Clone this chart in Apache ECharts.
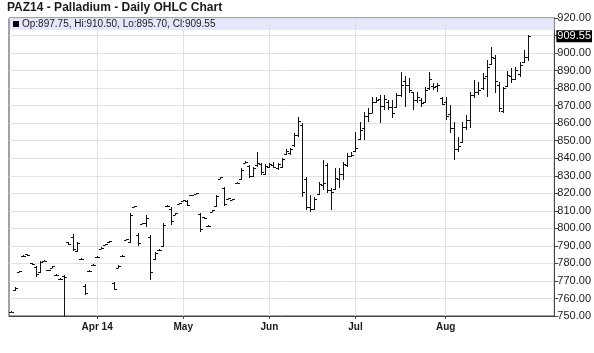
<!DOCTYPE html>
<html>
<head>
<meta charset="utf-8">
<script src="https://cdn.jsdelivr.net/npm/echarts@6/dist/echarts.min.js"></script>
<style>
html,body{margin:0;padding:0;background:#fff;}
#chart{width:594px;height:353px;}
</style>
</head>
<body>
<div id="chart"></div>
<script>
// ---- data ----
const titleText = 'PAZ14 - Palladium - Daily OHLC Chart';
const tradingDays = {
  '2014-03': [3,4,5,6,7,10,11,12,13,14,17,18,19,20,21,24,25,26,27,28,31],
  '2014-04': [1,2,3,4,7,8,9,10,11,14,15,16,17,21,22,23,24,25,28,29,30],
  '2014-05': [1,2,5,6,7,8,9,12,13,14,15,16,19,20,21,22,23,27,28,29,30],
  '2014-06': [2,3,4,5,6,9,10,11,12,13,16,17,18,19,20,23,24,25,26,27,30],
  '2014-07': [1,2,3,7,8,9,10,11,14,15,16,17,18,21,22,23,24,25,28,29,30,31],
  '2014-08': [1,4,5,6,7,8,11,12,13,14,15,18,19,20,21,22,25,26,27,28,29]
};
const paddingDays = ['2014-09-02','2014-09-03','2014-09-04','2014-09-05','2014-09-08','2014-09-09'];
const tickDates = ['2014-04-01','2014-05-01','2014-06-02','2014-07-01','2014-08-01'];
const tickLabels = ['Apr 14','May','Jun','Jul','Aug'];
const yTicks = {min: 750, max: 920, step: 10};

const opens = [
 752.5,765,775,784,785.3,780,778,775,781.5,776.3,777.5,773.6,771.2,773,792,795,787,782.7,767,775.5,779.2,
 783.5,788.5,790.7,792,769,777.6,784,793.5,792.5,812.1,796,802.5,803,795,782.5,787.5,790,812.5,811,807.8,814,
 815.8,815.5,818.8,819.8,808,806.2,801.5,809.5,812.5,828.3,823,816.8,816.4,825.8,828,837.3,835.5,830,836,836.5,831,
 835,836,834.5,835,842.5,843,847.5,853,859,828,812,811,819.5,825,836,822,822.5,828,831,836,841.5,
 844,851,857,864,866,872,874,870,872,869,869,876,884,882,878,873,873,872,880,881,881,874.5,
 872,865,857,845,849,858,862,876,878,880,887,894,897,882,867,881,887,885,888,895,897.75
];
const highs = [
 752.8,766.7,775.8,784.8,785.5,780.2,778.5,781.4,782,776.5,778.5,773.8,771.4,773.4,792.4,796.5,792,783,768.4,776,779.4,
 784.2,789.2,791.3,792.8,769.6,779,784.7,794.2,808.8,812.8,797.3,803.3,807.6,796.2,786.7,788,802.9,813.2,812.4,808.8,814.6,
 816.4,816,819.3,820.4,809,806.5,801.8,810.5,819,829.5,823.4,817.4,817,826.4,834.3,838.2,836.1,835.2,843.7,837.1,836.7,
 837.5,838,837.5,840,845,845.7,854.2,863.7,860,829.5,819,818,826.6,839,837,822.8,834.3,834.3,838,842.8,843.7,
 855.2,860.9,866.5,868.5,875.1,875.1,876,876,873.2,873.2,877,889.4,887,885.6,878,878,874.2,880.8,889.4,882.8,882.8,875.1,
 875.1,870.4,860.9,852.3,860.9,864.7,878,884.6,883.7,888.4,896,903.6,898.9,883.7,880.8,890,891.3,892.3,895,901.7,910.5
];
const lows = [
 752.2,764.2,775,783.8,784.5,779.3,772.5,774.7,781.2,775.8,777.4,773,770.6,750,790.4,786.8,786.5,782.2,762,775.3,778.6,
 783.3,788.3,790.5,791.9,764.8,777.4,783.9,793.3,791.5,812,789.7,802.3,801,770.5,781.9,787.3,789.5,812.3,801.9,807.6,813.8,
 815.6,813,818.6,819.6,798,805.5,800.9,809.3,812.4,828,812.8,816.6,816.2,825.6,827.6,837,828.6,829.5,835.2,830.4,830.4,
 834.3,834.3,833.3,834.3,841.8,841.8,846.6,852.3,818,810.5,809.5,810.5,819,822,820,810.5,822,822.8,827.6,835.2,840.9,
 843.7,850.4,850.4,860.9,865.6,871.3,860,867.5,867.5,862.8,868.5,875.1,869.4,877,867.5,871.3,869.4,871.3,878.9,878.9,878,870.4,
 861.8,854.2,839,843.7,848.5,856.1,857.1,874.2,876,878.9,875.1,893.2,877,866.5,865.6,880.8,882.8,884.6,886.5,894.2,895.7
];
const closes = [
 752.5,766,775.5,784.5,784.8,779.5,774,781,781.6,776,778.3,773.3,770.9,772,790.8,788,791.5,782.5,763,775.8,779,
 783.8,789,791,792.6,765.5,778.5,784.4,793.8,807.5,812.5,791.5,803,806,775,786,787.8,802,812.9,804,808.5,814.3,
 816.2,813.5,819,820.1,799.5,805.8,801.2,810.3,818.5,829.2,814,817.2,816.7,826.1,833.5,837.8,830,834.5,837,832,835.5,
 836.5,835,836.5,839.5,844,845,853.5,861,820.5,812,811,816.5,825.5,826,822,821,829,831,836.5,841.5,842,
 846,856,864,866,872,873.5,870,874,869,866,876,882,882,879,873,875,871.5,879,885,880.5,881.5,871,
 864,857,845,847,858,862,876,878,879,886,892,898,884,868.5,880,887.5,885,890.5,893,898,909.55
];

// ---- build ----
const dates = [];
Object.keys(tradingDays).forEach(m => tradingDays[m].forEach(d => dates.push(m + '-' + String(d).padStart(2,'0'))));
const categories = dates.concat(paddingDays);
const ohlc = dates.map((d, i) => [i, opens[i], highs[i], lows[i], closes[i]]);
const last = dates.length - 1;
const tickIdx = tickDates.map(d => categories.indexOf(d));
const FONT = '"Liberation Sans", Arial, sans-serif';

const chart = echarts.init(document.getElementById('chart'), null, {renderer: 'canvas'});

function renderOHLC(params, api) {
  const idx = api.value(0);
  const pH = api.coord([idx, api.value(2)]);
  const pL = api.coord([idx, api.value(3)]);
  const pO = api.coord([idx, api.value(1)]);
  const pC = api.coord([idx, api.value(4)]);
  const x = Math.round(pH[0]) + 0.5;
  const yH = Math.round(pH[1]), yL = Math.round(pL[1]);
  const yO = Math.round(pO[1]) + 0.5, yC = Math.round(pC[1]) + 0.5;
  const style = {stroke: '#111', lineWidth: 1};
  return {
    type: 'group',
    children: [
      {type: 'line', shape: {x1: x, y1: yH, x2: x, y2: Math.max(yL, yH + 1)}, style: style},
      {type: 'line', shape: {x1: x - 2.5, y1: yO, x2: x, y2: yO}, style: style},
      {type: 'line', shape: {x1: x, y1: yC, x2: x + 2.5, y2: yC}, style: style}
    ]
  };
}

const legendText = 'Op:' + opens[last].toFixed(2) + ', Hi:' + highs[last].toFixed(2) +
  ', Lo:' + lows[last].toFixed(2) + ', Cl:' + closes[last].toFixed(2);

chart.setOption({
  animation: false,
  backgroundColor: '#fff',
  title: {
    text: titleText, left: 7, top: 2, padding: 0,
    textStyle: {fontFamily: FONT, fontSize: 12, fontWeight: 'bold', color: '#1a1a1a'}
  },
  grid: {left: 9, right: 39, top: 18, bottom: 37, show: true, borderColor: '#444', borderWidth: 1, backgroundColor: 'transparent'},
  xAxis: {
    type: 'category',
    data: categories,
    boundaryGap: true,
    axisLine: {show: true, lineStyle: {color: '#444'}},
    axisTick: {show: true, alignWithLabel: true, length: 3, interval: (i) => tickIdx.includes(i), lineStyle: {color: '#444'}},
    axisLabel: {
      interval: (i) => tickIdx.includes(i),
      formatter: (v, i) => { const k = tickDates.indexOf(v); return k >= 0 ? tickLabels[k] : ''; },
      fontFamily: FONT, fontSize: 10, fontWeight: 'bold', color: '#1a1a1a', margin: 6
    },
    splitLine: {show: false}
  },
  yAxis: {
    type: 'value', position: 'right',
    min: yTicks.min, max: yTicks.max, interval: yTicks.step,
    axisLine: {show: true, lineStyle: {color: '#444'}},
    axisTick: {show: true, length: 4, lineStyle: {color: '#444'}},
    axisLabel: {formatter: v => v.toFixed(2), fontFamily: FONT, fontSize: 11, color: '#1a1a1a', margin: 3},
    splitLine: {show: true, lineStyle: {color: '#e2e2e2', width: 1}}
  },
  graphic: [
    {type: 'rect', z: 1, shape: {x: 10, y: 19, width: 545, height: 11}, style: {fill: 'rgba(205,205,250,0.5)'}},
    {type: 'rect', z: 2, shape: {x: 13, y: 21, width: 6, height: 6}, style: {fill: '#000'}},
    {type: 'text', z: 2, x: 22, y: 24.5, style: {text: legendText, font: '10px ' + FONT, fill: '#1a1a1a', textVerticalAlign: 'middle'}}
  ],
  series: [
    {
      type: 'line', z: 1, data: [], silent: true, showSymbol: false,
      markLine: {
        silent: true, symbol: 'none', z: 1, animation: false,
        label: {show: false},
        lineStyle: {color: '#e2e2e2', width: 1, type: 'solid'},
        data: tickDates.map(d => ({xAxis: d}))
      }
    },
    {
      type: 'custom', z: 3, clip: true,
      renderItem: renderOHLC,
      encode: {x: 0, y: [1, 2, 3, 4]},
      data: ohlc
    },
    {
      type: 'line', z: 10, data: [], silent: true, showSymbol: false,
      markLine: {
        silent: true, symbol: 'none', z: 10, animation: false,
        lineStyle: {color: 'rgba(0,0,0,0)', width: 0, type: 'solid'},
        label: {
          show: true, position: 'end', distance: 2,
          formatter: () => closes[last].toFixed(2),
          backgroundColor: '#000', color: '#fff', fontFamily: FONT, fontSize: 11, padding: [1, 1, 0, 1]
        },
        data: [{yAxis: closes[last]}]
      }
    }
  ]
});
</script>
</body>
</html>
